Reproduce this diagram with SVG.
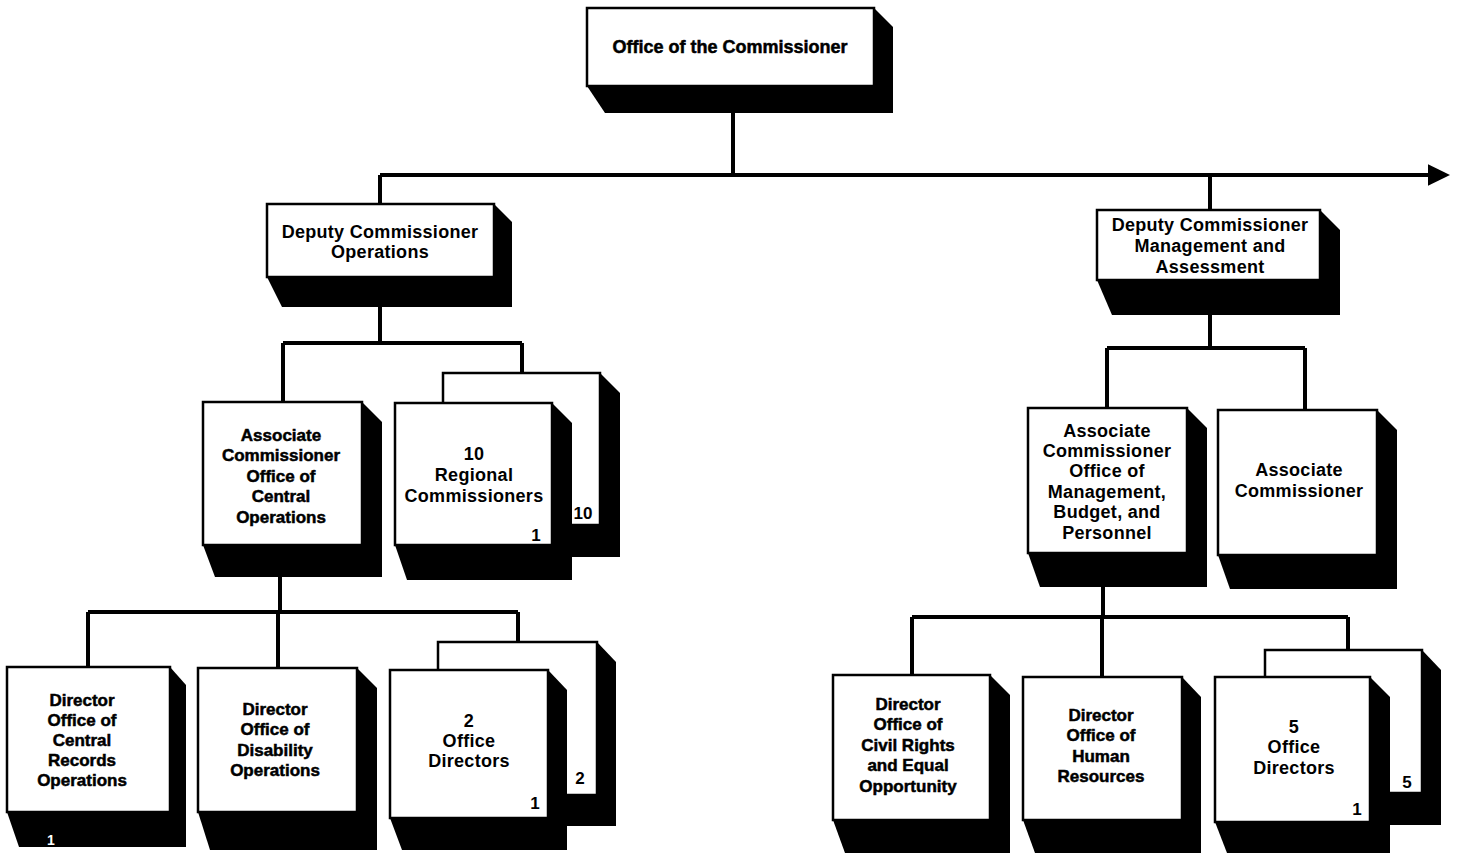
<svg xmlns="http://www.w3.org/2000/svg" width="1457" height="855" viewBox="0 0 1457 855">
<defs>
<style>
.face{fill:#fff;stroke:#000;stroke-width:2.5}
.shd{fill:#000}
.con{fill:none;stroke:#000;stroke-width:4}
text{font-family:"Liberation Sans",Arial,sans-serif;font-weight:bold;fill:#000;text-anchor:middle}
.h{font-size:17px;stroke:#000;stroke-width:0.5}
.t{font-size:18px;stroke:#000;stroke-width:0.5}
.m{font-size:18px;letter-spacing:0.3px}
.n{font-size:17px}
.w{fill:#fff;font-size:14px}
</style>
<marker id="arr" markerWidth="8" markerHeight="8" refX="1" refY="4" orient="auto" markerUnits="strokeWidth">
<path d="M0,1.3 L5.5,4 L0,6.7 Z" fill="#000"/>
</marker>
</defs>
<rect width="1457" height="855" fill="#fff"/>
<g id="connectors">
<path class="con" d="M733 113V175"/>
<path class="con" d="M380 175H1432" marker-end="url(#arr)"/>
<path class="con" d="M380 175V204M1210 175V210"/>
<path class="con" d="M380 307V343M283 343H522M283 343V402M522 343V373"/>
<path class="con" d="M280 577V612M88 612H518M88 612V667M278 612V668M518 612V642"/>
<path class="con" d="M1210 315V348M1107 348H1305M1107 348V408M1305 348V410"/>
<path class="con" d="M1103 587V617M912 617H1348M912 617V675M1102 617V677M1348 617V650"/>
</g>
<g id="commissioner">
<polygon class="shd" points="874,8 893,27 893,113 605,113 587,86"/>
<rect class="face" x="587" y="8" width="287" height="78"/>
<text class="t" x="730" y="53">Office of the Commissioner</text>
</g>
<g id="deputy-operations">
<polygon class="shd" points="494,204 512,222 512,307 282,307 267,277"/>
<rect class="face" x="267" y="204" width="227" height="73"/>
<text class="m" x="380" y="238">Deputy Commissioner</text>
<text class="m" x="380" y="258">Operations</text>
</g>
<g id="deputy-management">
<polygon class="shd" points="1320,210 1340,230 1340,315 1112,315 1097,280"/>
<rect class="face" x="1097" y="210" width="223" height="70"/>
<text class="m" x="1210" y="231">Deputy Commissioner</text>
<text class="m" x="1210" y="252">Management and</text>
<text class="m" x="1210" y="273">Assessment</text>
</g>
<g id="assoc-central-operations">
<polygon class="shd" points="362,402 382,422 382,577 215,577 203,545"/>
<rect class="face" x="203" y="402" width="159" height="143"/>
<text class="h" x="281" y="441">Associate</text>
<text class="h" x="281" y="461">Commissioner</text>
<text class="h" x="281" y="482">Office of</text>
<text class="h" x="281" y="502">Central</text>
<text class="h" x="281" y="523">Operations</text>
</g>
<g id="regional-commissioners">
<polygon class="shd" points="600,373 620,393 620,557 455,557 443,525"/>
<rect class="face" x="443" y="373" width="157" height="152"/>
<text class="n" x="583" y="519">10</text>
<polygon class="shd" points="552,403 572,423 572,580 407,580 395,545"/>
<rect class="face" x="395" y="403" width="157" height="142"/>
<text class="m" x="474" y="460">10</text>
<text class="m" x="474" y="481">Regional</text>
<text class="m" x="474" y="502">Commissioners</text>
<text class="n" x="536" y="541">1</text>
</g>
<g id="assoc-management">
<polygon class="shd" points="1187,408 1207,428 1207,587 1040,587 1028,553"/>
<rect class="face" x="1028" y="408" width="159" height="145"/>
<text class="m" x="1107" y="437">Associate</text>
<text class="m" x="1107" y="457">Commissioner</text>
<text class="m" x="1107" y="477">Office of</text>
<text class="m" x="1107" y="498">Management,</text>
<text class="m" x="1107" y="518">Budget, and</text>
<text class="m" x="1107" y="539">Personnel</text>
</g>
<g id="assoc-commissioner">
<polygon class="shd" points="1377,410 1397,430 1397,589 1230,589 1218,555"/>
<rect class="face" x="1218" y="410" width="159" height="145"/>
<text class="m" x="1299" y="476">Associate</text>
<text class="m" x="1299" y="497">Commissioner</text>
</g>
<g id="dir-central-records">
<polygon class="shd" points="170,667 186,685 186,847 19,847 7,812"/>
<rect class="face" x="7" y="667" width="163" height="145"/>
<text class="h" x="82" y="706">Director</text>
<text class="h" x="82" y="726">Office of</text>
<text class="h" x="82" y="746">Central</text>
<text class="h" x="82" y="766">Records</text>
<text class="h" x="82" y="786">Operations</text>
<text class="w" x="51" y="845">1</text>
</g>
<g id="dir-disability">
<polygon class="shd" points="357,668 377,688 377,850 210,850 198,812"/>
<rect class="face" x="198" y="668" width="159" height="144"/>
<text class="h" x="275" y="715">Director</text>
<text class="h" x="275" y="735">Office of</text>
<text class="h" x="275" y="756">Disability</text>
<text class="h" x="275" y="776">Operations</text>
</g>
<g id="office-directors-2">
<polygon class="shd" points="597,642 616,662 616,826 450,826 438,795"/>
<rect class="face" x="438" y="642" width="159" height="153"/>
<text class="n" x="580" y="784">2</text>
<polygon class="shd" points="548,670 567,690 567,850 402,850 390,818"/>
<rect class="face" x="390" y="670" width="158" height="148"/>
<text class="m" x="469" y="727">2</text>
<text class="m" x="469" y="747">Office</text>
<text class="m" x="469" y="767">Directors</text>
<text class="n" x="535" y="809">1</text>
</g>
<g id="dir-civil-rights">
<polygon class="shd" points="990,675 1010,695 1010,853 845,853 833,820"/>
<rect class="face" x="833" y="675" width="157" height="145"/>
<text class="h" x="908" y="710">Director</text>
<text class="h" x="908" y="730">Office of</text>
<text class="h" x="908" y="751">Civil Rights</text>
<text class="h" x="908" y="771">and Equal</text>
<text class="h" x="908" y="792">Opportunity</text>
</g>
<g id="dir-human-resources">
<polygon class="shd" points="1182,677 1201,697 1201,853 1035,853 1023,820"/>
<rect class="face" x="1023" y="677" width="159" height="143"/>
<text class="h" x="1101" y="721">Director</text>
<text class="h" x="1101" y="741">Office of</text>
<text class="h" x="1101" y="762">Human</text>
<text class="h" x="1101" y="782">Resources</text>
</g>
<g id="office-directors-5">
<polygon class="shd" points="1422,650 1441,670 1441,825 1277,825 1265,793"/>
<rect class="face" x="1265" y="650" width="157" height="143"/>
<text class="n" x="1407" y="788">5</text>
<polygon class="shd" points="1370,677 1390,697 1390,853 1227,853 1215,822"/>
<rect class="face" x="1215" y="677" width="155" height="145"/>
<text class="m" x="1294" y="733">5</text>
<text class="m" x="1294" y="753">Office</text>
<text class="m" x="1294" y="774">Directors</text>
<text class="n" x="1357" y="815">1</text>
</g>
</svg>
